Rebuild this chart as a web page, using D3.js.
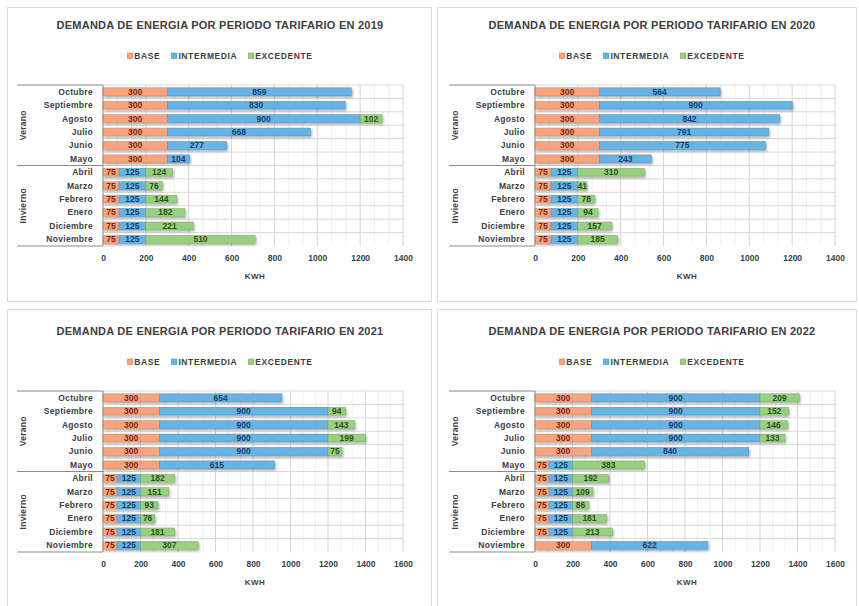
<!DOCTYPE html>
<html>
<head>
<meta charset="utf-8">
<script src="https://cdn.jsdelivr.net/npm/d3@7"></script>
<style>
  html, body { margin: 0; padding: 0; background: #ffffff; }
  svg { display: block; font-family: "Liberation Sans", Arial, sans-serif; }
</style>
</head>
<body>
<svg id="chart" width="859" height="606"></svg>
<script>
// Months, top to bottom as listed on the category axis
const months = ["Octubre", "Septiembre", "Agosto", "Julio", "Junio", "Mayo",
                "Abril", "Marzo", "Febrero", "Enero", "Diciembre", "Noviembre"];
const seasons = ["Verano", "Invierno"];
const seasonSize = [6, 6];
const seriesNames = ["BASE", "INTERMEDIA", "EXCEDENTE"];
const years = ["2019", "2020", "2021", "2022"];
const axisMax = [1400, 1400, 1600, 1600];
const axisTitle = "KWH";

// kWh per tariff period
const base2019  = [300, 300, 300, 300, 300, 300, 75, 75, 75, 75, 75, 75];
const inter2019 = [859, 830, 900, 668, 277, 104, 125, 125, 125, 125, 125, 125];
const exce2019  = [0, 0, 102, 0, 0, 0, 124, 76, 144, 182, 221, 510];

const base2020  = [300, 300, 300, 300, 300, 300, 75, 75, 75, 75, 75, 75];
const inter2020 = [564, 900, 842, 791, 775, 243, 125, 125, 125, 125, 125, 125];
const exce2020  = [0, 0, 0, 0, 0, 0, 310, 41, 78, 94, 157, 185];

const base2021  = [300, 300, 300, 300, 300, 300, 75, 75, 75, 75, 75, 75];
const inter2021 = [654, 900, 900, 900, 900, 615, 125, 125, 125, 125, 125, 125];
const exce2021  = [0, 94, 143, 199, 75, 0, 182, 151, 93, 76, 181, 307];

const base2022  = [300, 300, 300, 300, 300, 75, 75, 75, 75, 75, 75, 300];
const inter2022 = [900, 900, 900, 900, 840, 125, 125, 125, 125, 125, 125, 622];
const exce2022  = [209, 152, 146, 133, 0, 383, 192, 109, 86, 181, 213, 0];

const baseByYear  = [base2019, base2020, base2021, base2022];
const interByYear = [inter2019, inter2020, inter2021, inter2022];
const exceByYear  = [exce2019, exce2020, exce2021, exce2022];

// Styling
const fills   = ["#F5A47F", "#67B3E4", "#98CF80"];
const strokes = ["#E2835A", "#3F93CB", "#6FB256"];
const labelColors = ["#7A2A0C", "#1C3F66", "#2F4F1C"];
const textDark = "#404040";

const svg = d3.select("#chart");

const defs = svg.append("defs");
const shadow = defs.append("filter").attr("id", "barShadow")
  .attr("x", "-5%").attr("y", "-30%").attr("width", "115%").attr("height", "180%");
shadow.append("feDropShadow")
  .attr("dx", 1).attr("dy", 1.6).attr("stdDeviation", 0.9)
  .attr("flood-color", "#000").attr("flood-opacity", 0.35);

// Panel frames and offsets of each chart
const panels = [
  { x: 8,   y: 8,   w: 424, h: 294, dx: 0,   dy: 0 },
  { x: 438, y: 8,   w: 419, h: 294, dx: 432, dy: 0 },
  { x: 8,   y: 310, w: 424, h: 300, dx: 0,   dy: 306 },
  { x: 438, y: 310, w: 419, h: 300, dx: 432, dy: 306 }
];

panels.forEach((p, i) => {
  svg.append("rect")
    .attr("x", p.x - 0.5).attr("y", p.y - 0.5)
    .attr("width", p.w).attr("height", p.h)
    .attr("fill", "#ffffff")
    .attr("stroke", "#dcdcdc").attr("stroke-width", 1);
  drawChart(i, p.dx, p.dy);
});

function drawChart(i, dx, dy) {
  const g = svg.append("g").attr("transform", `translate(${dx},${dy})`);
  const left = 103, right = 403, top = 85, bottom = 246;
  const cx = 220;

  const x = d3.scaleLinear().domain([0, axisMax[i]]).range([left, right]);
  const y = d3.scaleBand().domain(months).range([top, bottom]).paddingInner(0.42).paddingOuter(0.21);
  const step = y.step();

  // Title
  g.append("text")
    .attr("x", cx).attr("y", 29)
    .attr("text-anchor", "middle")
    .attr("font-size", 11).attr("font-weight", "bold")
    .attr("letter-spacing", 0.25)
    .attr("fill", textDark)
    .text(`DEMANDA DE ENERGIA POR PERIODO TARIFARIO EN ${years[i]}`);

  // Legend
  const leg = g.append("g");
  let lx = 0;
  seriesNames.forEach((name, k) => {
    const item = leg.append("g").attr("transform", `translate(${lx},0)`);
    item.append("rect")
      .attr("x", 0).attr("y", -3).attr("width", 5.5).attr("height", 5.5)
      .attr("fill", fills[k]).attr("stroke", strokes[k]).attr("stroke-width", 0.6);
    const t = item.append("text")
      .attr("x", 7).attr("y", 3)
      .attr("font-size", 8.5).attr("font-weight", "bold")
      .attr("letter-spacing", 0.6)
      .attr("fill", textDark)
      .text(name);
    lx += 7 + t.node().getComputedTextLength() + 11;
  });
  leg.attr("transform", `translate(${cx - (lx - 11) / 2},56)`);

  // Gridlines: minor (3 per major interval) then major
  const minorVals = d3.range(1, axisMax[i] / (200 / 3) + 0.5).map(k => k * 200 / 3).filter(v => Math.round(v) % 200 !== 0);
  g.append("g").selectAll("line").data(minorVals).join("line")
    .attr("x1", d => x(d)).attr("x2", d => x(d))
    .attr("y1", top).attr("y2", bottom)
    .attr("stroke", "#ececec").attr("stroke-width", 0.8);
  const majorVals = d3.range(200, axisMax[i] + 1, 200);
  g.append("g").selectAll("line").data(majorVals).join("line")
    .attr("x1", d => x(d)).attr("x2", d => x(d))
    .attr("y1", top).attr("y2", bottom)
    .attr("stroke", "#d6d6d6").attr("stroke-width", 1);
  const rowEdges = d3.range(0, months.length).map(k => top + k * step);
  g.append("g").selectAll("line").data(rowEdges).join("line")
    .attr("x1", left).attr("x2", right)
    .attr("y1", d => d).attr("y2", d => d)
    .attr("stroke", "#dadada").attr("stroke-width", 1);

  // Stacked bars
  const rows = months.map((m, j) => ({
    month: m,
    vals: [baseByYear[i][j], interByYear[i][j], exceByYear[i][j]]
  }));
  const stack = d3.stack().keys([0, 1, 2]).value((d, k) => d.vals[k]);
  const layers = stack(rows);

  const barsG = g.append("g").attr("filter", "url(#barShadow)");
  layers.forEach((layer, k) => {
    barsG.append("g").selectAll("rect")
      .data(layer.filter(d => d[1] - d[0] > 0))
      .join("rect")
      .attr("x", d => x(d[0]))
      .attr("y", d => y(d.data.month))
      .attr("width", d => x(d[1]) - x(d[0]))
      .attr("height", y.bandwidth())
      .attr("fill", fills[k])
      .attr("stroke", strokes[k]).attr("stroke-width", 0.5);
  });

  // Segment value labels
  layers.forEach((layer, k) => {
    g.append("g").selectAll("text")
      .data(layer.filter(d => d[1] - d[0] > 0))
      .join("text")
      .attr("x", d => (x(d[0]) + x(d[1])) / 2)
      .attr("y", d => y(d.data.month) + y.bandwidth() / 2 + 3)
      .attr("text-anchor", "middle")
      .attr("font-size", 8.5).attr("font-weight", "bold")
      .attr("fill", labelColors[k])
      .text(d => d[1] - d[0]);
  });

  // Value axis
  const xAxis = d3.axisBottom(x)
    .tickValues(d3.range(0, axisMax[i] + 1, 200))
    .tickFormat(d3.format("d"))
    .tickSize(0).tickPadding(0);
  const ax = g.append("g").attr("transform", `translate(0,${bottom + 15})`).call(xAxis);
  ax.select(".domain").remove();
  ax.selectAll("text")
    .attr("font-size", 8.5).attr("font-weight", "bold")
    .attr("font-family", "Liberation Sans, Arial, sans-serif")
    .attr("fill", textDark).attr("dy", "0");

  g.append("text")
    .attr("x", (left + right) / 2 + 2).attr("y", 279)
    .attr("text-anchor", "middle")
    .attr("font-size", 8).attr("font-weight", "bold")
    .attr("letter-spacing", 0.4)
    .attr("fill", textDark)
    .text(axisTitle);

  // Category axis: months
  g.append("g").selectAll("text").data(months).join("text")
    .attr("x", left - 10)
    .attr("y", d => y(d) + y.bandwidth() / 2 + 3)
    .attr("text-anchor", "end")
    .attr("font-size", 8.5).attr("font-weight", "bold")
    .attr("letter-spacing", 0.3)
    .attr("fill", textDark)
    .text(d => d);

  // Category axis: seasons with separator lines
  const lineColor = "#8a8a8a";
  g.append("line")
    .attr("x1", left).attr("x2", left).attr("y1", top).attr("y2", bottom)
    .attr("stroke", lineColor).attr("stroke-width", 1);
  let start = 0;
  const edges = [top];
  seasons.forEach((s, k) => {
    const yStart = top + start * step;
    const yEnd = top + (start + seasonSize[k]) * step;
    edges.push(yEnd);
    g.append("text")
      .attr("transform", `translate(26,${(yStart + yEnd) / 2}) rotate(-90)`)
      .attr("text-anchor", "middle")
      .attr("font-size", 8.5).attr("font-weight", "bold")
      .attr("letter-spacing", 0.3)
      .attr("fill", textDark)
      .text(s);
    start += seasonSize[k];
  });
  g.append("g").selectAll("line").data(edges).join("line")
    .attr("x1", 17).attr("x2", left)
    .attr("y1", d => d).attr("y2", d => d)
    .attr("stroke", lineColor).attr("stroke-width", 1);
}
</script>
</body>
</html>
